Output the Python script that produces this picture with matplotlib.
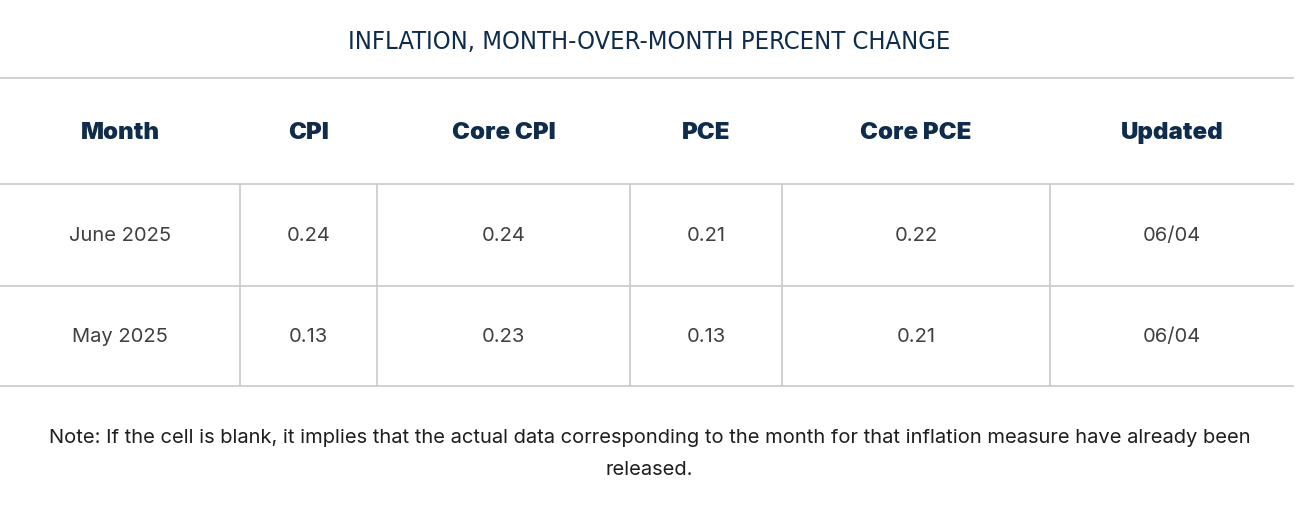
import matplotlib
matplotlib.use("Agg")
import matplotlib.pyplot as plt

TITLE = "INFLATION, MONTH-OVER-MONTH PERCENT CHANGE"
COLUMNS = ["Month", "CPI", "Core CPI", "PCE", "Core PCE", "Updated"]
MONTHS = ["June 2025", "May 2025"]
CPI = ["0.24", "0.13"]
CORE_CPI = ["0.24", "0.23"]
PCE = ["0.21", "0.13"]
CORE_PCE = ["0.22", "0.21"]
UPDATED = ["06/04", "06/04"]
NOTE = ("Note: If the cell is blank, it implies that the actual data corresponding to the month "
        "for that inflation measure have already been\nreleased.")

# layout (pixels)
W, H = 1299, 505
COL_EDGES = [0, 240, 377, 630, 782, 1050, 1294]
ROW_EDGES = [78, 184, 286, 386]
NAVY = "#0f2c4c"
GRID = "#c9c9c9"


def main():
    fig = plt.figure(figsize=(W / 100, H / 100), dpi=100)
    ax = fig.add_axes([0, 0, 1, 1])
    ax.set_xlim(0, W)
    ax.set_ylim(H, 0)
    ax.axis("off")

    ax.text(W / 2, 42, TITLE, ha="center", va="center", fontsize=18.3,
            color=NAVY, family=["Liberation Sans Narrow", "DejaVu Sans"],
            fontstretch="condensed")

    # horizontal rules
    for y in ROW_EDGES:
        ax.plot([COL_EDGES[0], COL_EDGES[-1]], [y, y], color=GRID, lw=1.2,
                solid_capstyle="butt")
    # vertical rules only in body rows
    for x in COL_EDGES[1:-1]:
        ax.plot([x, x], [ROW_EDGES[1], ROW_EDGES[-1]], color=GRID, lw=1.2,
                solid_capstyle="butt")

    centers = [(a + b) / 2 for a, b in zip(COL_EDGES[:-1], COL_EDGES[1:])]
    for cx, name in zip(centers, COLUMNS):
        ax.text(cx, (ROW_EDGES[0] + ROW_EDGES[1]) / 2 + 2, name, ha="center",
                va="center", fontsize=17.3, fontweight="black", color=NAVY,
                family=["Inter", "DejaVu Sans"])

    rows = list(zip(MONTHS, CPI, CORE_CPI, PCE, CORE_PCE, UPDATED))
    for i, row in enumerate(rows):
        cy = (ROW_EDGES[i + 1] + ROW_EDGES[i + 2]) / 2 + 1
        for cx, val in zip(centers, row):
            ax.text(cx, cy, val, ha="center", va="center", fontsize=14.5,
                    color="#404040", family=["Inter", "DejaVu Sans"])

    ax.text(W / 2, 454, NOTE, ha="center", va="center", fontsize=14.5,
            color="#1e1e1e", family=["Inter", "DejaVu Sans"],
            linespacing=1.95)

    fig.savefig("out.png", dpi=100, facecolor="white")


if __name__ == "__main__":
    main()
